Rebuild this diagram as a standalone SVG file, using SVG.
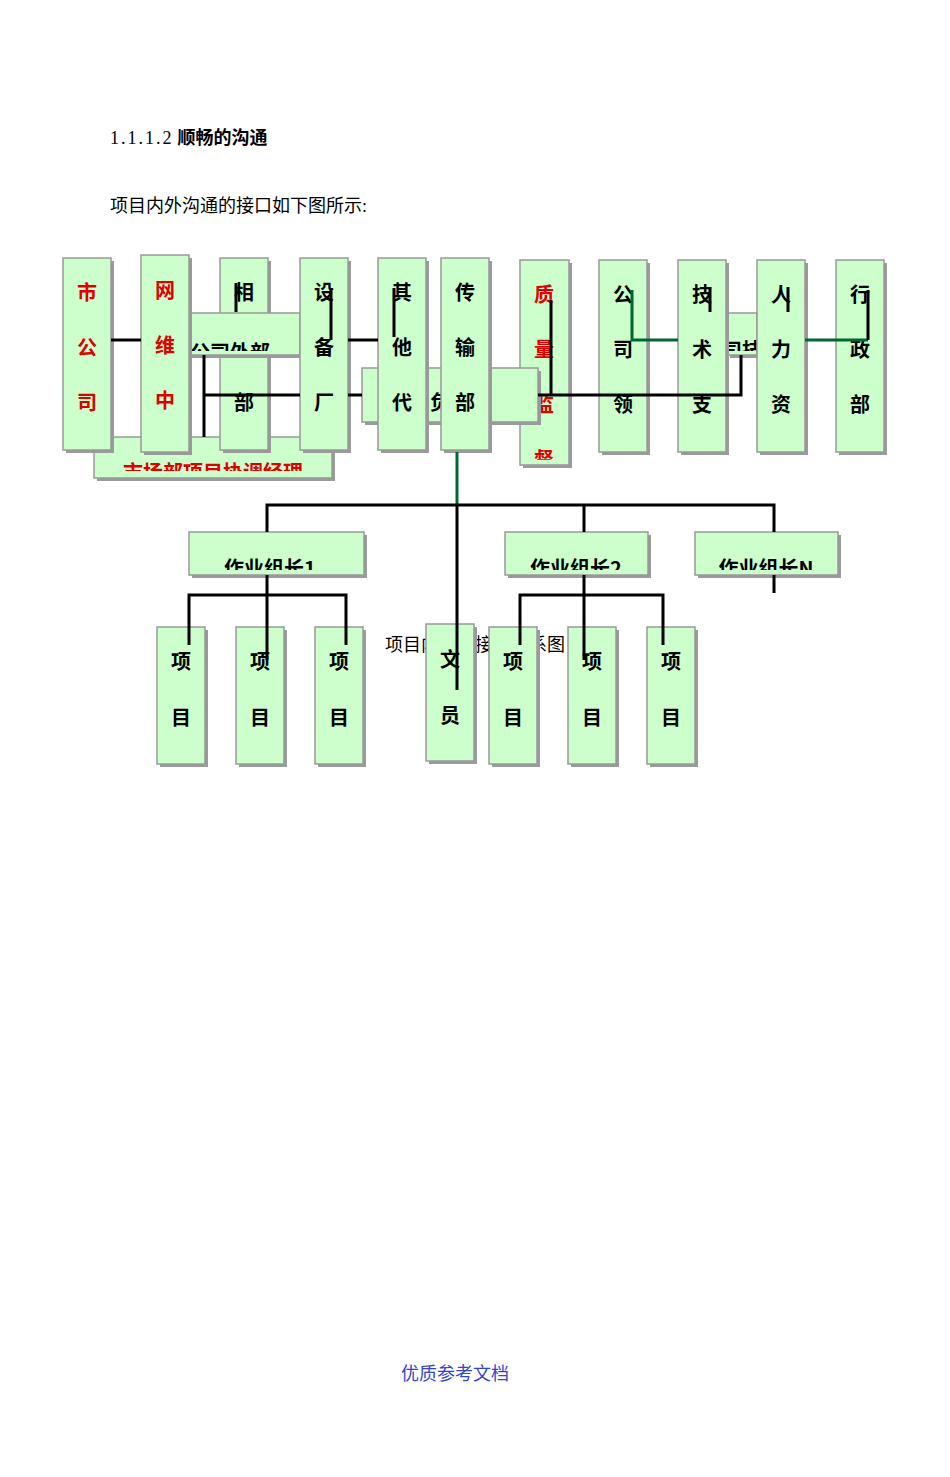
<svg xmlns="http://www.w3.org/2000/svg" width="950" height="1477" viewBox="0 0 950 1477">
<style>
.b{fill:#ccffcc;stroke:#999;stroke-width:1.5}
.s{fill:#9a9a9a}
.t{font-family:"Noto Sans CJK SC",sans-serif;font-weight:bold;font-size:20px;text-anchor:middle;fill:#000}
.r{fill:#e00000}
.l{stroke:#000;stroke-width:3;fill:none}
.g{stroke:#063;stroke-width:3;fill:none}
.p{font-family:"Liberation Serif","Noto Sans CJK SC",serif;font-size:18px;fill:#000}
</style>
<defs>
<clipPath id="c1"><rect x="189" y="313" width="111" height="38"/></clipPath>
<clipPath id="c2"><rect x="94" y="437" width="238" height="34"/></clipPath>
<clipPath id="c3"><rect x="520" y="260" width="49" height="200"/></clipPath>
<clipPath id="c4"><rect x="140" y="532" width="720" height="38"/></clipPath>
<clipPath id="c5"><rect x="362" y="368" width="176" height="54"/></clipPath>
<clipPath id="c6"><rect x="727" y="313" width="30" height="38"/></clipPath>
</defs>
<text class="p" x="110" y="144" letter-spacing="2">1.1.1.2<tspan font-weight="bold" font-family="Noto Sans CJK SC,sans-serif" letter-spacing="0"> 顺畅的沟通</tspan></text>
<text class="p" x="110" y="212">项目内外沟通的接口如下图所示:</text>
<text class="p" x="385" y="651" font-size="17" fill="#444">项目内外部接口关系图</text>
<g id="n-market"><rect class="s" x="97" y="440" width="238" height="41"/><rect class="b" x="94" y="437" width="238" height="41"/><text class="t r" x="213" y="480" clip-path="url(#c2)">市场部项目协调经理</text></g>
<g id="n-xiang"><rect class="s" x="223" y="261" width="48" height="192"/><rect class="b" x="220" y="258" width="48" height="192"/><text class="t" x="244" y="300">相</text><text class="t" x="244" y="410">部</text></g>
<g id="n-wai"><rect class="s" x="192" y="316" width="111" height="42"/><rect class="b" x="189" y="313" width="111" height="42"/><text class="t" x="230" y="360" clip-path="url(#c1)">公司外部</text></g>
<g id="n-shi"><rect class="s" x="66" y="261" width="48" height="192"/><rect class="b" x="63" y="258" width="48" height="192"/><text class="t r" x="87" y="300">市</text><text class="t r" x="87" y="355">公</text><text class="t r" x="87" y="410">司</text></g>
<g id="n-wang"><rect class="s" x="144" y="258" width="48" height="197"/><rect class="b" x="141" y="255" width="48" height="197"/><text class="t r" x="165" y="298">网</text><text class="t r" x="165" y="353">维</text><text class="t r" x="165" y="408">中</text></g>
<g id="n-she"><rect class="s" x="303" y="261" width="48" height="192"/><rect class="b" x="300" y="258" width="48" height="192"/><text class="t" x="324" y="300">设</text><text class="t" x="324" y="355">备</text><text class="t" x="324" y="410">厂</text></g>
<g id="n-zhi"><rect class="s" x="523" y="263" width="49" height="205"/><rect class="b" x="520" y="260" width="49" height="205"/><g clip-path="url(#c3)"><text class="t r" x="544" y="302">质</text><text class="t r" x="544" y="357">量</text><text class="t r" x="544" y="412">监</text><text class="t r" x="544" y="467">督</text></g></g>
<g id="n-fu"><rect class="s" x="365" y="371" width="176" height="54"/><rect class="b" x="362" y="368" width="176" height="54"/><text class="t" x="440" y="410" fill="#0033cc" clip-path="url(#c5)">负</text></g>
<g id="n-qi"><rect class="s" x="381" y="261" width="48" height="192"/><rect class="b" x="378" y="258" width="48" height="192"/><text class="t" x="402" y="300">其</text><text class="t" x="402" y="355">他</text><text class="t" x="402" y="410">代</text></g>
<g id="n-chuan"><rect class="s" x="444" y="261" width="48" height="192"/><rect class="b" x="441" y="258" width="48" height="192"/><text class="t" x="465" y="300">传</text><text class="t" x="465" y="355">输</text><text class="t" x="465" y="410">部</text></g>
<g id="n-gong"><rect class="s" x="602" y="263" width="48" height="192"/><rect class="b" x="599" y="260" width="48" height="192"/><text class="t" x="623" y="302">公</text><text class="t" x="623" y="357">司</text><text class="t" x="623" y="412">领</text></g>
<g id="n-si"><rect class="s" x="730" y="316" width="30" height="42"/><rect class="b" x="727" y="313" width="30" height="42"/><text class="t" x="742" y="358" clip-path="url(#c6)">司技</text></g>
<g id="n-ji"><rect class="s" x="681" y="263" width="48" height="192"/><rect class="b" x="678" y="260" width="48" height="192"/><text class="t" x="702" y="302">技</text><text class="t" x="702" y="357">术</text><text class="t" x="702" y="412">支</text></g>
<g id="n-ren"><rect class="s" x="760" y="263" width="48" height="192"/><rect class="b" x="757" y="260" width="48" height="192"/><text class="t" x="781" y="302">人</text><text class="t" x="781" y="357">力</text><text class="t" x="781" y="412">资</text></g>
<g id="n-xing"><rect class="s" x="839" y="263" width="48" height="192"/><rect class="b" x="836" y="260" width="48" height="192"/><text class="t" x="860" y="302">行</text><text class="t" x="860" y="357">政</text><text class="t" x="860" y="412">部</text></g>
<g id="n-z1"><rect class="s" x="192" y="535" width="175" height="43"/><rect class="b" x="189" y="532" width="175" height="43"/><text class="t" x="270" y="576" clip-path="url(#c4)">作业组长1</text></g>
<g id="n-z2"><rect class="s" x="508" y="535" width="143" height="43"/><rect class="b" x="505" y="532" width="143" height="43"/><text class="t" x="576" y="576" clip-path="url(#c4)">作业组长2</text></g>
<g id="n-zn"><rect class="s" x="698" y="535" width="143" height="43"/><rect class="b" x="695" y="532" width="143" height="43"/><text class="t" x="766" y="576" clip-path="url(#c4)">作业组长N</text></g>
<g id="n-p1"><rect class="s" x="160" y="630" width="48" height="137"/><rect class="b" x="157" y="627" width="48" height="137"/><text class="t" x="181" y="669">项</text><text class="t" x="181" y="725">目</text></g>
<g id="n-p2"><rect class="s" x="239" y="630" width="48" height="137"/><rect class="b" x="236" y="627" width="48" height="137"/><text class="t" x="260" y="669">项</text><text class="t" x="260" y="725">目</text></g>
<g id="n-p3"><rect class="s" x="318" y="630" width="48" height="137"/><rect class="b" x="315" y="627" width="48" height="137"/><text class="t" x="339" y="669">项</text><text class="t" x="339" y="725">目</text></g>
<g id="n-wen"><rect class="s" x="429" y="627" width="48" height="137"/><rect class="b" x="426" y="624" width="48" height="137"/><text class="t" x="450" y="667">文</text><text class="t" x="450" y="723">员</text></g>
<g id="n-p4"><rect class="s" x="492" y="630" width="48" height="137"/><rect class="b" x="489" y="627" width="48" height="137"/><text class="t" x="513" y="669">项</text><text class="t" x="513" y="725">目</text></g>
<g id="n-p5"><rect class="s" x="571" y="630" width="48" height="137"/><rect class="b" x="568" y="627" width="48" height="137"/><text class="t" x="592" y="669">项</text><text class="t" x="592" y="725">目</text></g>
<g id="n-p6"><rect class="s" x="650" y="630" width="48" height="137"/><rect class="b" x="647" y="627" width="48" height="137"/><text class="t" x="671" y="669">项</text><text class="t" x="671" y="725">目</text></g>
<g id="connectors">
<path class="l" d="M111 340H141M348 340H378M204 355V437M204 395H300M348 395H362M236 283V312M331 288V340M394 288V337"/>
<path class="l" d="M551 300V395M538 395H741V355M710 287V312M788 287V312"/>
<path class="g" d="M632 290V340H678M805 340H868"/>
<path class="l" d="M868 290V340"/>
<path class="g" d="M457 452V505"/>
<path class="l" d="M457 505V690M267 532V505H774V532M584 505V532M774 575V593"/>
<path class="l" d="M267 575V660M189 645V595H346V645M584 575V660M520 645V595H663V645"/>
</g>
<text x="455" y="1380" font-family="Liberation Serif,Noto Sans CJK SC,serif" font-size="18" fill="#3344cc" text-anchor="middle">优质参考文档</text>
</svg>
